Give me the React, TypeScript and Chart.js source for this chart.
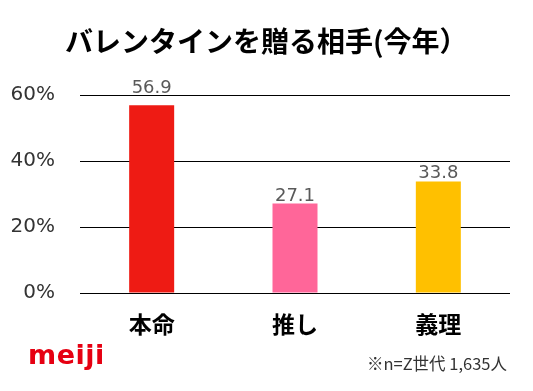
import React, { useEffect, useRef } from "react";
import { Chart, registerables } from "chart.js";

Chart.register(...registerables);

const TITLE = "バレンタインを贈る相手(今年）";
const CATEGORIES = ["本命", "推し", "義理"];
const VALUES = [56.9, 27.1, 33.8];
const BAR_COLORS = ["#EE1B14", "#FF6699", "#FFC000"];
const Y_TICKS = [0, 20, 40, 60];
const FOOTNOTE = "※n=Z世代 1,635人";
const LOGO = "meiji";

const valueLabels = {
  id: "valueLabels",
  afterDatasetsDraw(chart: any) {
    const ctx = chart.ctx;
    const meta = chart.getDatasetMeta(0);
    const yScale = chart.scales.y;
    const gridYs = Y_TICKS.map((t) => yScale.getPixelForValue(t));
    ctx.save();
    ctx.font = '18px "DejaVu Sans"';
    ctx.fillStyle = "#595959";
    ctx.textAlign = "center";
    ctx.textBaseline = "alphabetic";
    meta.data.forEach((el: any, i: number) => {
      const v = chart.data.datasets[0].data[i];
      let base = el.y - 3;
      // keep the label clear of a gridline it would cross
      gridYs.forEach((gy) => {
        if (gy < base + 2 && gy > base - 14) base = gy - 2;
      });
      ctx.fillText(v.toFixed(1), el.x, base);
    });
    ctx.restore();
  },
};

export default function App() {
  const ref = useRef<HTMLCanvasElement>(null);
  useEffect(() => {
    if (!ref.current) return;
    const chart = new Chart(ref.current, {
      type: "bar",
      data: {
        labels: CATEGORIES,
        datasets: [
          {
            data: VALUES,
            backgroundColor: BAR_COLORS,
            barPercentage: 1,
            categoryPercentage: 0.314,
          },
        ],
      },
      options: {
        responsive: false,
        animation: false,
        layout: { padding: { top: 95, left: 0, right: 23, bottom: 0 } },
        plugins: {
          legend: { display: false },
          tooltip: { enabled: false },
          title: { display: false },
        },
        scales: {
          x: {
            grid: { display: false, drawTicks: false },
            border: { display: false },
            ticks: {
              color: "#000",
              padding: 17,
              font: { family: '"Noto Sans CJK JP"', size: 23, weight: "bold" },
            },
            afterFit: (s: any) => {
              s.height = 98;
            },
          },
          y: {
            min: 0,
            max: 60,
            afterBuildTicks: (s: any) => {
              s.ticks = Y_TICKS.map((v) => ({ value: v }));
            },
            grid: { color: "#000", lineWidth: 1, drawTicks: false },
            border: { display: false },
            ticks: {
              color: "#333",
              padding: 25,
              font: { family: '"DejaVu Sans"', size: 20 },
              callback: (v: any) => v + "%",
            },
            afterFit: (s: any) => {
              s.width = 80;
            },
          },
        },
      },
      plugins: [valueLabels],
    });
    return () => chart.destroy();
  }, []);

  return (
    <div
      style={{
        position: "absolute",
        left: 0,
        top: 0,
        width: 533,
        height: 391,
        background: "#fff",
        overflow: "hidden",
      }}
    >
      <canvas ref={ref} width={533} height={391} style={{ display: "block" }} />
      <div
        style={{
          position: "absolute",
          left: 65,
          top: 22,
          fontFamily: '"Noto Sans CJK JP", sans-serif',
          fontWeight: "bold",
          fontSize: 28,
          color: "#000",
          lineHeight: "36px",
          whiteSpace: "nowrap",
        }}
      >
        {TITLE}
      </div>
      <div
        style={{
          position: "absolute",
          left: 28,
          top: 340,
          fontFamily: '"DejaVu Sans", sans-serif',
          fontWeight: "bold",
          fontSize: 27,
          color: "#E60012",
          lineHeight: "30px",
          letterSpacing: 0.5,
        }}
      >
        {LOGO}
      </div>
      <div
        style={{
          position: "absolute",
          right: 26,
          top: 352,
          fontFamily: '"Noto Sans CJK JP", sans-serif',
          fontSize: 16.5,
          color: "#333",
          lineHeight: "22px",
          whiteSpace: "nowrap",
        }}
      >
        {FOOTNOTE}
      </div>
    </div>
  );
}
